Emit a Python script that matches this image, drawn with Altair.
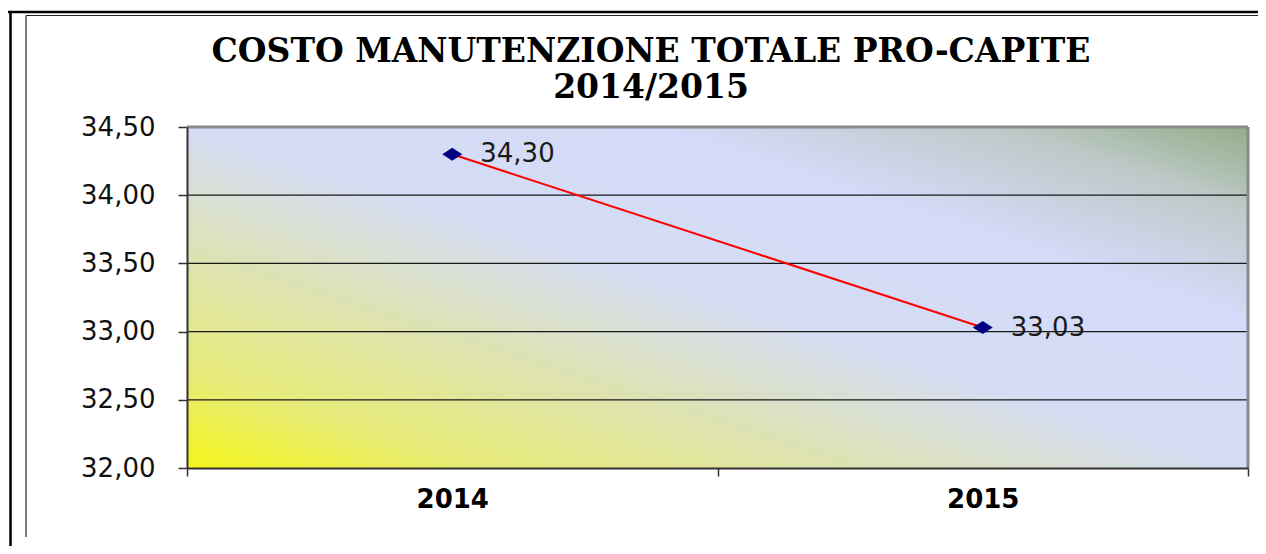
import altair as alt
import pandas as pd

# ---- data ----
years = ["2014", "2015"]
values = [34.30, 33.03]
value_labels = ["34,30", "33,03"]
y_ticks = [32.0, 32.5, 33.0, 33.5, 34.0, 34.5]
grid_values = [32.5, 33.0, 33.5, 34.0]
title_lines = ["COSTO MANUTENZIONE TOTALE PRO-CAPITE", "2014/2015"]

W, H = 1061, 341

df = pd.DataFrame({"anno": years, "valore": values, "etichetta": value_labels})
grid_df = pd.DataFrame({"g": grid_values})
one = pd.DataFrame({"k": [0]})

yscale = alt.Scale(domain=[32, 34.5], nice=False, zero=False)
xscale = alt.Scale(type="band", paddingInner=0, paddingOuter=0)

x_axis = alt.Axis(
    title=None, labelAngle=0, labelFont="DejaVu Sans", labelFontSize=26,
    labelFontWeight="bold", labelColor="black", domainColor="#333333",
    domainWidth=2, tickColor="#333333", tickSize=8, tickWidth=1.5,
    tickBand="extent", labelPadding=10, grid=False, zindex=1,
)
y_axis = alt.Axis(
    title=None, values=y_ticks,
    labelExpr="replace(format(datum.value, '.2f'), '.', ',')",
    labelFont="DejaVu Sans", labelFontSize=26, labelColor="#111111",
    domainColor="#333333", domainWidth=2, tickColor="#333333", tickSize=9,
    tickWidth=1.5, labelPadding=23, grid=False, zindex=1,
)

gradient = alt.LinearGradient(
    gradient="linear",
    stops=[
        alt.GradientStop(color="#f4f518", offset=0.0),
        alt.GradientStop(color="#e7eb78", offset=0.14),
        alt.GradientStop(color="#dde2b4", offset=0.32),
        alt.GradientStop(color="#d5dcf4", offset=0.5),
        alt.GradientStop(color="#d3dbf8", offset=0.72),
        alt.GradientStop(color="#bdc9c8", offset=0.88),
        alt.GradientStop(color="#95ad88", offset=1.0),
    ],
    x1=0, y1=1, x2=1, y2=0,
)

bg = alt.Chart(one).mark_rect(fill=gradient, strokeWidth=0).encode(
    x=alt.value(0), x2=alt.value(W), y=alt.value(0), y2=alt.value(H)
)

grid = alt.Chart(grid_df).mark_rule(color="#1a1a1a", strokeWidth=1.2).encode(
    y=alt.Y("g:Q", scale=yscale, axis=y_axis), x=alt.value(0), x2=alt.value(W)
)

border_top = alt.Chart(one).mark_rule(color="#8a8a8a", strokeWidth=3).encode(
    x=alt.value(0), x2=alt.value(W), y=alt.value(0)
)
border_right = alt.Chart(one).mark_rule(color="#8a8a8a", strokeWidth=3).encode(
    x=alt.value(W), y=alt.value(0), y2=alt.value(H)
)

base = alt.Chart(df)
line = base.mark_line(color="#ff0000", strokeWidth=2).encode(
    x=alt.X("anno:N", scale=xscale, axis=x_axis, bandPosition=0.5),
    y=alt.Y("valore:Q", scale=yscale, axis=y_axis),
)
points = base.mark_point(
    shape="M-1,0L0,-0.65L1,0L0,0.65Z", size=400, filled=True,
    color="#000080", opacity=1,
).encode(
    x=alt.X("anno:N", scale=xscale, axis=x_axis, bandPosition=0.5),
    y=alt.Y("valore:Q", scale=yscale, axis=y_axis),
)
labels = base.mark_text(
    align="left", baseline="middle", dx=28, font="DejaVu Sans",
    fontSize=26, color="#1a1a1a",
).encode(
    x=alt.X("anno:N", scale=xscale, axis=x_axis, bandPosition=0.5),
    y=alt.Y("valore:Q", scale=yscale, axis=y_axis),
    text="etichetta:N",
)

# chart title (two lines) as a single multi-line text mark above the plot
title = alt.Chart(one).mark_text(
    text=title_lines, font="DejaVu Serif", fontSize=33, fontWeight="bold",
    color="black", align="center", baseline="top", lineHeight=36,
).encode(x=alt.value(464), y=alt.value(-91))

# decorative frame lines (outside the plot area)
frame_outer_top = alt.Chart(one).mark_rule(color="black", strokeWidth=2.5).encode(
    x=alt.value(-179), x2=alt.value(W + 12), y=alt.value(-115)
)
frame_outer_left = alt.Chart(one).mark_rule(color="black", strokeWidth=2.5).encode(
    x=alt.value(-176.5), y=alt.value(-115), y2=alt.value(H + 80)
)
frame_inner_top = alt.Chart(one).mark_rule(color="#222222", strokeWidth=1.2).encode(
    x=alt.value(-161), x2=alt.value(W + 12), y=alt.value(-111.5)
)
frame_inner_left = alt.Chart(one).mark_rule(color="#555555", strokeWidth=1.5).encode(
    x=alt.value(-161), y=alt.value(-111.5), y2=alt.value(H + 69)
)

chart = alt.layer(
    bg, grid, border_top, border_right, line, points, labels, title,
    frame_outer_top, frame_outer_left, frame_inner_top, frame_inner_left,
).properties(
    width=W, height=H,
    padding={"left": 179, "top": 119, "right": 10, "bottom": 78},
    autosize=alt.AutoSizeParams(type="none"),
).configure_view(stroke=None).configure(background="white")

chart.save("out.html", embed_options={"renderer": "svg", "actions": False})
